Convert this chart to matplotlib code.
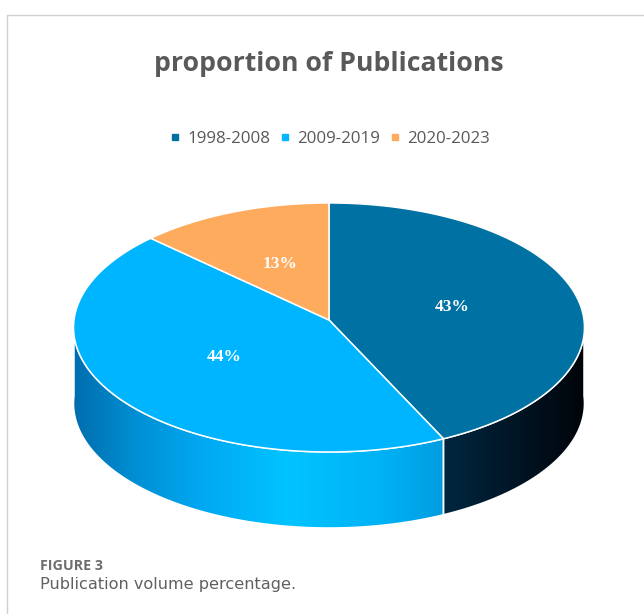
import numpy as np
import matplotlib
matplotlib.use("Agg")
import matplotlib.pyplot as plt
from matplotlib.patches import Polygon
from matplotlib.lines import Line2D
from matplotlib.colors import LinearSegmentedColormap

# ---- data ----
categories = ["1998-2008", "2009-2019", "2020-2023"]
shares = [43, 44, 13]
title = "proportion of Publications"
caption_head = "FIGURE 3"
caption_text = "Publication volume percentage."

# ---- styling ----
top_colors = ["#0071A3", "#00B5FF", "#FFAB5E"]
# horizontal shading stops (fraction of pie width, colour) for the side walls
side_stops = [
    [(0.0, "#004C74"), (0.4, "#003A5C"), (0.75, "#00243C"), (1.0, "#00040A")],
    [(0.0, "#006EAE"), (0.12, "#008FD4"), (0.25, "#00A8F2"), (0.42, "#00C4FF"),
     (0.6, "#00B2F6"), (0.75, "#0098DC"), (1.0, "#0080C0")],
    [(0.0, "#E08A40"), (1.0, "#E08A40")],
]

W, H = 644, 614
fig = plt.figure(figsize=(W / 100, H / 100), dpi=100)
ax = fig.add_axes([0, 0, 1, 1])
ax.set_xlim(0, W)
ax.set_ylim(H, 0)
ax.axis("off")

# chart frame (runs off the right and bottom edges)
ax.add_line(Line2D([7, 7, W + 5], [H + 5, 15, 15], color="#D0D0D0", lw=1.0))

# pie geometry in pixel space, with a little perspective (front looks wider)
cx, cy = 329.0, 320.0
rx, ry = 255.0, 124.5
persp = 0.06
depth = 76.0


def project(theta_deg, r=1.0, dy=0.0):
    t = np.radians(theta_deg)
    u, v = r * np.cos(t), r * np.sin(t)
    s = 1.0 - persp * v
    return cx + rx * u * s, cy - ry * v * s + dy


# wedge angles: start at 12 o'clock, run clockwise
fracs = np.array(shares, dtype=float) / np.sum(shares)
starts = 90.0 - 360.0 * np.concatenate([[0.0], np.cumsum(fracs)[:-1]])
ends = starts - 360.0 * fracs

# side walls (front half only)
grad = np.linspace(0, 1, 512)[None, :]
for i, (a0, a1) in enumerate(zip(starts, ends)):
    for k in (-1, 0, 1):
        lo = max(a1, -180.0 + 360.0 * k)
        hi = min(a0, 0.0 + 360.0 * k)
        if lo >= hi:
            continue
        th = np.linspace(lo, hi, 200)
        xs, ys = project(th)
        xb, yb = project(th[::-1], dy=depth)
        poly = np.column_stack([np.concatenate([xs, xb]), np.concatenate([ys, yb])])
        patch = Polygon(poly, closed=True, facecolor="none", edgecolor="none")
        ax.add_patch(patch)
        cmap = LinearSegmentedColormap.from_list(f"side{i}", side_stops[i])
        im = ax.imshow(grad, cmap=cmap, aspect="auto",
                       extent=[cx - rx, cx + rx, cy + ry * 1.1 + depth + 2, cy - ry],
                       zorder=1, interpolation="bilinear")
        im.set_clip_path(patch)
        ax.add_patch(Polygon(poly, closed=True, facecolor="none",
                             edgecolor="white", lw=1.1, zorder=2))

# top faces
for i, (a0, a1) in enumerate(zip(starts, ends)):
    th = np.linspace(a0, a1, 300)
    xs, ys = project(th)
    poly = np.column_stack([np.concatenate([[cx], xs]),
                            np.concatenate([[cy], ys])])
    ax.add_patch(Polygon(poly, closed=True, facecolor=top_colors[i],
                         edgecolor="white", lw=1.1, zorder=3, joinstyle="round"))

# percentage labels at half radius along each wedge's middle
for i, (a0, a1) in enumerate(zip(starts, ends)):
    lx, ly = project(0.5 * (a0 + a1), r=0.5)
    ax.text(lx, ly, f"{shares[i]}%", ha="center", va="center", color="white",
            fontsize=12.5, fontweight="bold", family="Liberation Serif", zorder=4)

# title
ax.text(329, 64, title, ha="center", va="center", fontsize=19.2, fontweight="bold",
        color="#595959", family="Open Sans")

# legend
handles = [Line2D([], [], marker="s", linestyle="none", markersize=5,
                  markerfacecolor=c, markeredgecolor=c) for c in top_colors]
leg = ax.legend(handles, categories, loc="center", bbox_to_anchor=(330 / W, 1 - 139 / H),
                ncol=3, frameon=False, handlelength=0.6, handletextpad=0.4,
                columnspacing=0.6, borderpad=0,
                prop={"family": "Open Sans", "size": 12.2})
for t in leg.get_texts():
    t.set_color("#595959")

# caption
ax.text(40, 566, caption_head, ha="left", va="center", fontsize=10.3,
        fontweight="bold", color="#6E6E6E", family="Open Sans")
ax.text(40, 584, caption_text, ha="left", va="center", fontsize=11.6,
        color="#606060", family="DejaVu Sans")

fig.savefig("out.png", dpi=100, facecolor="white")
